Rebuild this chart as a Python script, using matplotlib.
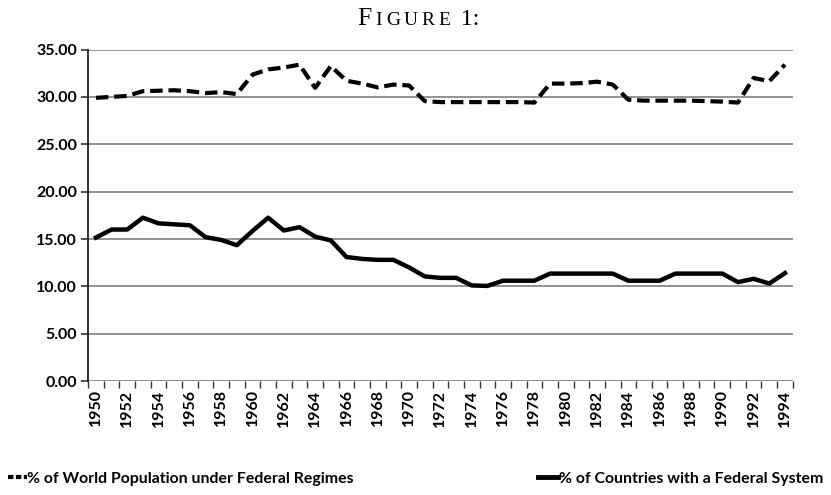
import matplotlib.pyplot as plt
from matplotlib.lines import Line2D
from matplotlib.offsetbox import TextArea, HPacker, AnchoredOffsetbox

years = list(range(1950, 1995))

population_pct = [29.9, 30.0, 30.1, 30.6, 30.65, 30.7, 30.6, 30.4, 30.5, 30.3,
                  32.35, 32.9, 33.1, 33.4, 30.95, 33.25, 31.7, 31.4, 31.0, 31.3,
                  31.2, 29.55, 29.45, 29.45, 29.45, 29.45, 29.45, 29.45, 29.4, 31.4,
                  31.4, 31.45, 31.6, 31.3, 29.7, 29.6, 29.6, 29.6, 29.6, 29.55,
                  29.5, 29.4, 32.0, 31.65, 33.4]

countries_pct = [15.15, 16.0, 16.0, 17.25, 16.65, 16.55, 16.45, 15.2, 14.9, 14.35,
                 15.85, 17.25, 15.9, 16.25, 15.25, 14.85, 13.1, 12.9, 12.8, 12.8,
                 12.0, 11.05, 10.9, 10.9, 10.1, 10.05, 10.6, 10.6, 10.6, 11.35,
                 11.35, 11.35, 11.35, 11.35, 10.6, 10.6, 10.6, 11.35, 11.35, 11.35,
                 11.35, 10.45, 10.8, 10.3, 11.4]

year_labels = [str(y) for y in range(1950, 1995, 2)]
y_ticks = [0, 5, 10, 15, 20, 25, 30, 35]

pop_label = '% of World Population under Federal Regimes'
cty_label = '% of Countries with a Federal System'


def main():
    fig = plt.figure(figsize=(8.31, 4.95), dpi=100)
    ax = fig.add_axes([0.106, 0.230, 0.848, 0.670])

    grid_color = '#8a8a8a'
    for v in y_ticks:
        ax.axhline(v, color=grid_color, lw=1.3, zorder=1)

    ax.plot(years, population_pct, color='black', lw=3,
            linestyle=(0, (3, 1.4)), zorder=3)
    ax.plot(years, countries_pct, color='black', lw=3.2,
            solid_joinstyle='round', zorder=3)

    ax.set_xlim(1949.5, 1994.5)
    ax.set_ylim(0, 35)

    for side in ['top', 'right', 'bottom']:
        ax.spines[side].set_visible(False)
    ax.spines['left'].set_color('#222222')
    ax.spines['left'].set_linewidth(1.3)

    ax.set_yticks(y_ticks)
    ax.set_yticklabels(['%.2f' % v for v in y_ticks])
    ax.set_xticks(range(1950, 1995, 2))
    ax.set_xticklabels(year_labels, rotation=90)
    ax.set_xticks([y + 0.5 for y in range(1949, 1995)], minor=True)

    ax.tick_params(axis='y', length=5, width=1.2, color='#333333', pad=3)
    ax.tick_params(axis='x', which='major', length=0, pad=6)
    ax.tick_params(axis='x', which='minor', length=5, width=1.0, color='#333333')
    for lab in ax.get_xticklabels() + ax.get_yticklabels():
        lab.set_fontfamily('Lato')
        lab.set_fontweight('bold')
        lab.set_fontsize(11.5)

    # title in letter-spaced small caps
    serif = 'Liberation Serif'
    parts = [TextArea('F', textprops=dict(family=serif, size=18.5))]
    for ch in 'IGURE':
        parts.append(TextArea(ch, textprops=dict(family=serif, size=14)))
    parts.append(TextArea(' 1:', textprops=dict(family=serif, size=17)))
    box = HPacker(children=parts, align='baseline', pad=0, sep=2.8)
    title = AnchoredOffsetbox(loc='upper center', child=box, frameon=False,
                              bbox_to_anchor=(0.503, 1.0),
                              bbox_transform=fig.transFigure, borderpad=0.15)
    fig.add_artist(title)

    # two legend entries, one at each bottom corner
    font = dict(family='Lato', weight='bold', size=11.4)
    pop_handle = Line2D([], [], color='black', lw=3, linestyle=(0, (1.3, 0.6)))
    cty_handle = Line2D([], [], color='black', lw=3.5)
    fig.legend([pop_handle], [pop_label], loc='lower left',
               bbox_to_anchor=(-0.008, -0.01), frameon=False,
               handlelength=1.2, handletextpad=0.05, prop=font)
    fig.legend([cty_handle], [cty_label], loc='lower right',
               bbox_to_anchor=(1.008, -0.01), frameon=False,
               handlelength=1.3, handletextpad=0.05, prop=font)

    fig.savefig('out.png', dpi=100)


if __name__ == "__main__":
    main()
